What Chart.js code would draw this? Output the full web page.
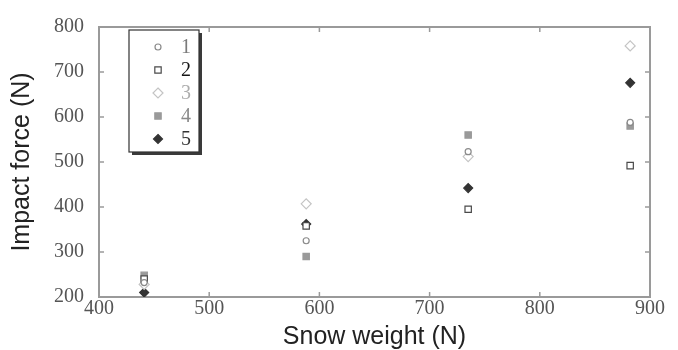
<!DOCTYPE html>
<html><head><meta charset="utf-8">
<script src="https://cdn.jsdelivr.net/npm/chart.js@4.4.1/dist/chart.umd.min.js"></script>
<style>html,body{margin:0;padding:0;background:#fff}canvas{display:block}</style>
</head><body>
<canvas id="c" width="678" height="350"></canvas>
<script>
// ---- data ----
const snowWeight = [441, 588, 735, 882];
const series1 = [232, 325, 523, 588];
const series2 = [240, 358, 395, 492];
const series3 = [228, 407, 512, 758];
const series4 = [248, 290, 560, 580];
const series5 = [210, 362, 442, 676];
const seriesLabels = ['1', '2', '3', '4', '5'];
const xTickValues = [400, 500, 600, 700, 800, 900];
const yTickValues = [200, 300, 400, 500, 600, 700, 800];
const xTitle = 'Snow weight (N)';
const yTitle = 'Impact force (N)';

// ---- styles ----
const styles = [
  {pointStyle: 'circle', backgroundColor: '#fff', borderColor: '#8a8a8a', radius: 3, text: '#7a7a7a'},
  {pointStyle: 'rect', backgroundColor: '#fff', borderColor: '#4a4a4a', radius: 4.5, text: '#151515'},
  {pointStyle: 'rectRot', backgroundColor: '#fff', borderColor: '#c4c4c4', radius: 5, text: '#adadad'},
  {pointStyle: 'rect', backgroundColor: '#9a9a9a', borderColor: '#9a9a9a', radius: 4.5, text: '#8a8a8a'},
  {pointStyle: 'rectRot', backgroundColor: '#333', borderColor: '#333', radius: 4.5, text: '#333'}
];
const allSeries = [series1, series2, series3, series4, series5];

const datasets = allSeries.map((s, i) => ({
  label: seriesLabels[i],
  data: s.map((v, j) => ({x: snowWeight[j], y: v})),
  pointStyle: styles[i].pointStyle,
  pointRadius: styles[i].radius,
  pointHoverRadius: styles[i].radius,
  pointBackgroundColor: styles[i].backgroundColor,
  pointBorderColor: styles[i].borderColor,
  pointBorderWidth: 1.2,
  showLine: false
}));

function drawMarker(ctx, st, x, y) {
  ctx.save();
  ctx.fillStyle = st.backgroundColor;
  ctx.strokeStyle = st.borderColor;
  ctx.lineWidth = 1.2;
  const r = st.radius;
  ctx.beginPath();
  if (st.pointStyle === 'circle') {
    ctx.arc(x, y, r, 0, Math.PI * 2);
  } else if (st.pointStyle === 'rect') {
    const h = r * Math.SQRT1_2;
    ctx.rect(x - h, y - h, 2 * h, 2 * h);
  } else {
    ctx.moveTo(x, y - r); ctx.lineTo(x + r, y); ctx.lineTo(x, y + r); ctx.lineTo(x - r, y); ctx.closePath();
  }
  ctx.fill(); ctx.stroke();
  ctx.restore();
}

const framePlugin = {
  id: 'frame',
  beforeDatasetsDraw(chart) {
    const {ctx, chartArea: a, scales} = chart;
    ctx.save();
    ctx.strokeStyle = '#9a9a9a';
    ctx.lineWidth = 2;
    ctx.strokeRect(a.left, a.top, a.right - a.left, a.bottom - a.top);
    ctx.lineWidth = 1.5;
    ctx.beginPath();
    xTickValues.slice(1, -1).forEach(v => {
      const px = scales.x.getPixelForValue(v);
      ctx.moveTo(px, a.bottom); ctx.lineTo(px, a.bottom - 5);
      ctx.moveTo(px, a.top); ctx.lineTo(px, a.top + 5);
    });
    yTickValues.slice(1, -1).forEach(v => {
      const py = scales.y.getPixelForValue(v);
      ctx.moveTo(a.left, py); ctx.lineTo(a.left + 5, py);
      ctx.moveTo(a.right, py); ctx.lineTo(a.right - 5, py);
    });
    ctx.stroke();
    ctx.restore();
  },
  afterDraw(chart) {
    const {ctx} = chart;
    const bx = 129, by = 30, bw = 70, bh = 122;
    ctx.save();
    ctx.fillStyle = '#3a3a3a';
    ctx.fillRect(bx + 3, by + 3, bw, bh);
    ctx.fillStyle = '#fff';
    ctx.fillRect(bx, by, bw, bh);
    ctx.strokeStyle = '#333';
    ctx.lineWidth = 1.2;
    ctx.strokeRect(bx, by, bw, bh);
    seriesLabels.forEach((lab, i) => {
      const y = by + 17 + i * 23;
      drawMarker(ctx, styles[i], bx + 29, y);
      ctx.fillStyle = styles[i].text;
      ctx.font = '20px "Liberation Serif", "DejaVu Serif", serif';
      ctx.textAlign = 'center';
      ctx.textBaseline = 'middle';
      ctx.fillText(lab, bx + 57, y + 1);
    });
    ctx.restore();
  }
};

const tickFont = {family: '"Liberation Serif", "DejaVu Serif", serif', size: 20};
const titleFont = {family: '"Liberation Sans", Arial, sans-serif', size: 25, lineHeight: 1.0};

new Chart(document.getElementById('c'), {
  type: 'scatter',
  data: {datasets},
  options: {
    responsive: false,
    animation: false,
    layout: {padding: {top: 24, right: 28, left: 0, bottom: 0}},
    plugins: {legend: {display: false}, tooltip: {enabled: false}},
    scales: {
      x: {
        type: 'linear', min: 400, max: 900,
        afterBuildTicks: s => { s.ticks = xTickValues.map(v => ({value: v})); },
        ticks: {font: tickFont, color: '#555', padding: 0, maxRotation: 0, autoSkip: false},
        grid: {display: false, drawTicks: false, tickLength: 0},
        border: {display: false},
        title: {display: true, text: xTitle, font: titleFont, color: '#222', padding: {top: 0, bottom: 0}},
        afterFit: s => { s.height = 53; }
      },
      y: {
        type: 'linear', min: 200, max: 800,
        afterBuildTicks: s => { s.ticks = yTickValues.map(v => ({value: v})); },
        ticks: {font: tickFont, color: '#555', padding: 15, autoSkip: false},
        grid: {display: false, drawTicks: false, tickLength: 0},
        border: {display: false},
        title: {display: true, text: yTitle, font: titleFont, color: '#222', padding: {top: 10, bottom: 0}},
        afterFit: s => { s.width = 99; }
      }
    }
  },
  plugins: [framePlugin]
});
</script>
</body></html>
